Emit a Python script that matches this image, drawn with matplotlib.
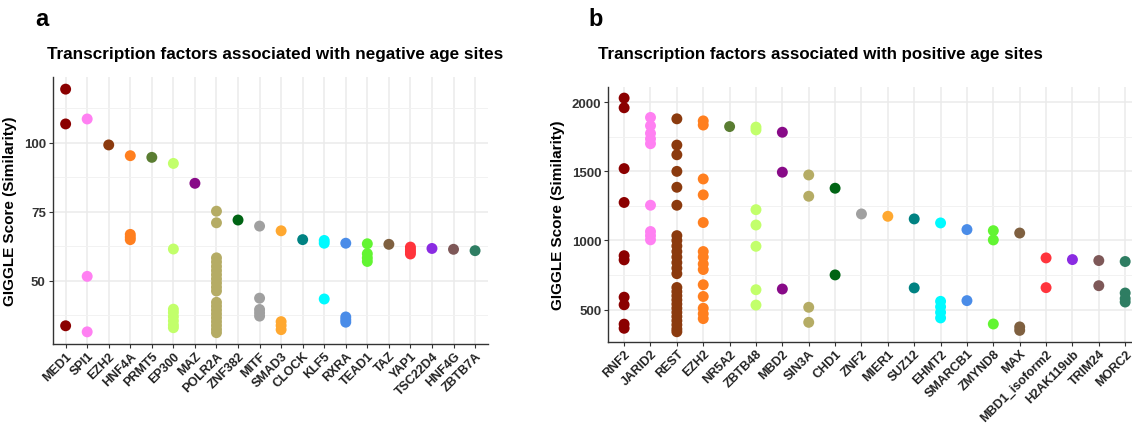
import matplotlib
matplotlib.use("Agg")
import matplotlib.pyplot as plt
from matplotlib.ticker import MultipleLocator

plt.rcParams["font.family"] = ["Liberation Sans", "DejaVu Sans"]
plt.rcParams["font.weight"] = "bold"

# Shared colour palette, one colour per factor position
palette = ["#8B0000", "#FF80F2", "#8B3A0E", "#FF7F1F", "#5A7D32",
           "#C2FF6B", "#880A88", "#B5AC65", "#006414", "#A0A0A0",
           "#FFA830", "#008282", "#00FAFF", "#4A8CE8", "#62F532",
           "#7F6040", "#FF343C", "#8A2BE2", "#7E5858", "#2E7D62"]

# Panel a: negative age sites
neg_tfs = ["MED1", "SPI1", "EZH2", "HNF4A", "PRMT5", "EP300", "MAZ", "POLR2A",
           "ZNF382", "MITF", "SMAD3", "CLOCK", "KLF5", "RXRA", "TEAD1", "TAZ",
           "YAP1", "TSC22D4", "HNF4G", "ZBTB7A"]
neg_scores = [
    [119.4, 106.8, 33.7],
    [108.6, 51.6, 31.5],
    [99.2],
    [95.3, 66.8, 65.8, 64.9],
    [94.7],
    [92.5, 61.5, 39.7, 38.5, 37.0, 35.5, 34.0, 33.0],
    [85.3],
    [75.2, 71.0, 58.3, 56.8, 55.2, 53.7, 52.2, 50.7, 49.2, 47.7, 46.3,
     42.2, 40.8, 39.4, 38.0, 36.6, 35.2, 33.8, 32.4, 31.2],
    [72.0],
    [69.8, 43.7, 39.6, 38.4, 37.2],
    [68.1, 35.2, 33.8, 32.3],
    [64.9],
    [64.6, 63.6, 43.4],
    [63.6, 36.9, 35.9, 35.0],
    [63.4, 59.8, 58.3, 57.0],
    [63.2],
    [62.2, 61.3, 60.5, 59.7],
    [61.7],
    [61.4],
    [60.9],
]

# Panel b: positive age sites
pos_tfs = ["RNF2", "JARID2", "REST", "EZH2", "NR5A2", "ZBTB48", "MBD2", "SIN3A",
           "CHD1", "ZNF2", "MIER1", "SUZ12", "EHMT2", "SMARCB1", "ZMYND8", "MAX",
           "MBD1_isoform2", "H2AK119ub", "TRIM24", "MORC2"]
pos_scores = [
    [2030, 1960, 1520, 1275, 890, 860, 590, 535, 395, 365],
    [1890, 1830, 1775, 1735, 1700, 1255, 1065, 1035, 1005],
    [1880, 1690, 1620, 1500, 1385, 1255, 1035, 1000, 960, 920, 880, 840,
     800, 760, 660, 630, 600, 570, 540, 510, 480, 450, 420, 390, 360, 340],
    [1865, 1835, 1445, 1330, 1130, 920, 880, 830, 790, 680, 595, 510, 470, 435],
    [1824],
    [1820, 1800, 1223, 1112, 958, 644, 533],
    [1783, 1494, 649],
    [1474, 1320, 517, 408],
    [1378, 751],
    [1192],
    [1175],
    [1156, 657],
    [1127, 560, 520, 480, 440],
    [1079, 565],
    [1071, 1004, 396],
    [1054, 375, 350],
    [874, 659],
    [862],
    [855, 673],
    [848, 620, 580, 555],
]

W, H = 1132, 427
fig = plt.figure(figsize=(W / 100, H / 100), dpi=100)


def px_axes(left, top, right, bottom):
    return fig.add_axes([left / W, 1 - bottom / H, (right - left) / W, (bottom - top) / H])


def draw_panel(ax, tfs, scores, ylim, major, minor, ylabel_x):
    for i, (tf, vals) in enumerate(zip(tfs, scores)):
        ax.scatter([i] * len(vals), vals, s=62, color=palette[i],
                   edgecolors="none", zorder=3)
    n = len(tfs)
    ax.set_xlim(-0.6, n - 1 + 0.6)
    ax.set_ylim(*ylim)
    ax.set_xticks(range(n))
    ax.set_xticklabels(tfs, rotation=45, ha="right", rotation_mode="anchor",
                       fontsize=9, fontweight="bold")
    ax.yaxis.set_major_locator(MultipleLocator(major))
    ax.yaxis.set_minor_locator(MultipleLocator(minor))
    ax.tick_params(axis="y", which="major", labelsize=9.5, length=3, width=0.8,
                   color="#333333", pad=2)
    ax.tick_params(axis="y", which="minor", length=0)
    ax.tick_params(axis="x", length=3, width=0.8, color="#333333", pad=1)
    for lab in ax.get_yticklabels():
        lab.set_fontweight("bold")
        lab.set_color("#333333")
    for lab in ax.get_xticklabels():
        lab.set_color("#222222")
    ax.grid(which="major", color="#EBEBEB", linewidth=1.1, zorder=0)
    ax.grid(which="minor", axis="y", color="#F2F2F2", linewidth=0.7, zorder=0)
    ax.set_axisbelow(True)
    for side in ("top", "right"):
        ax.spines[side].set_visible(False)
    for side in ("left", "bottom"):
        ax.spines[side].set_color("#333333")
        ax.spines[side].set_linewidth(1.0)
    ax.set_ylabel("GIGGLE Score (Similarity)", fontsize=11, fontweight="bold")
    ax.yaxis.set_label_coords(ylabel_x, 0.5)


ax_a = px_axes(52.7, 78, 488, 345)
draw_panel(ax_a, neg_tfs, neg_scores, (27.1, 123.8), 25, 12.5, -0.082)

ax_b = px_axes(608.3, 88.3, 1141, 342.7)
draw_panel(ax_b, pos_tfs, pos_scores, (268, 2108), 500, 250, -0.081)

fig.text(275.5 / W, 1 - 55 / H, "Transcription factors associated with negative age sites",
         ha="center", va="center", fontsize=12.3, fontweight="bold")
fig.text(820 / W, 1 - 55 / H, "Transcription factors associated with positive age sites",
         ha="center", va="center", fontsize=12.2, fontweight="bold")
fig.text(42 / W, 1 - 19.5 / H, "a", ha="center", va="center", fontsize=17, fontweight="bold")
fig.text(595.5 / W, 1 - 20 / H, "b", ha="center", va="center", fontsize=17, fontweight="bold")

fig.savefig("out.png", dpi=100)
